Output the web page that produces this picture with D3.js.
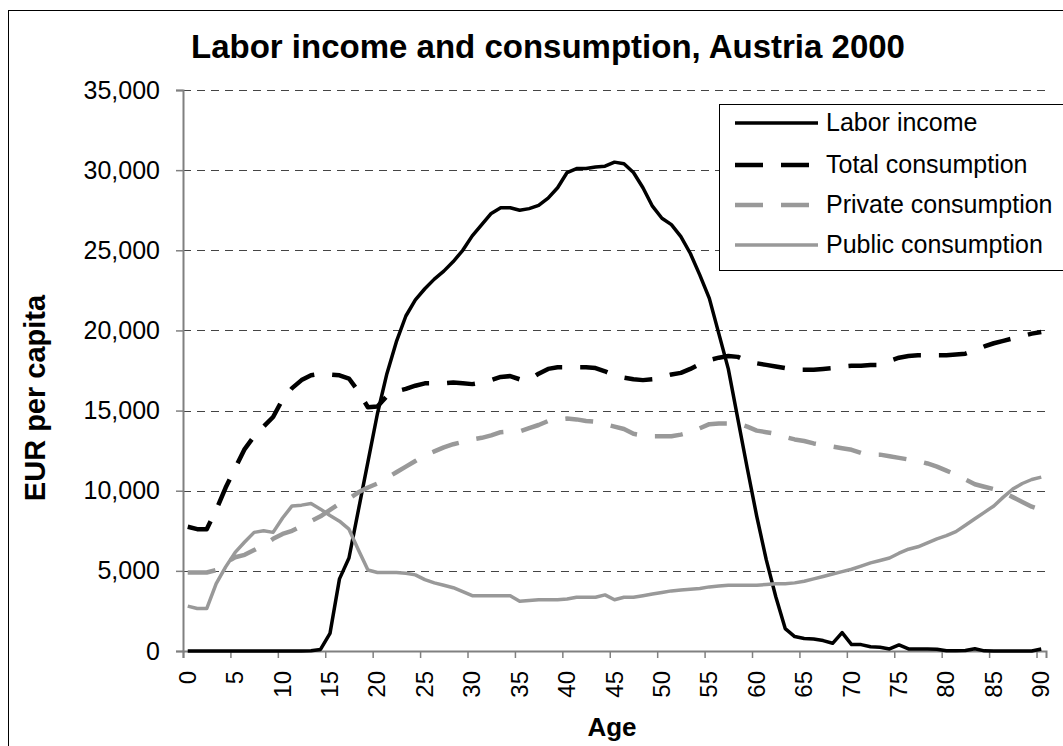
<!DOCTYPE html>
<html>
<head>
<meta charset="utf-8">
<script src="https://cdnjs.cloudflare.com/ajax/libs/d3/7.8.5/d3.min.js"></script>
<style>
  body { margin: 0; background: #fff; }
  text { font-family: "Liberation Sans", Arial, sans-serif; }
</style>
</head>
<body>
<script>
var ages = [0, 1, 2, 3, 4, 5, 6, 7, 8, 9, 10, 11, 12, 13, 14, 15, 16, 17, 18, 19,
    20, 21, 22, 23, 24, 25, 26, 27, 28, 29, 30, 31, 32, 33, 34, 35, 36, 37, 38, 39,
    40, 41, 42, 43, 44, 45, 46, 47, 48, 49, 50, 51, 52, 53, 54, 55, 56, 57, 58, 59,
    60, 61, 62, 63, 64, 65, 66, 67, 68, 69, 70, 71, 72, 73, 74, 75, 76, 77, 78, 79,
    80, 81, 82, 83, 84, 85, 86, 87, 88, 89, 90];

var laborIncome = [0, 0, 0, 0, 0, 0, 0, 0, 0, 0, 0, 0, 0, 20, 100, 1100, 4500, 5800, 8800, 11800,
    14800, 17300, 19300, 20900, 21900, 22600, 23200, 23700, 24300, 25000,
    25900, 26600, 27300, 27650, 27650, 27500, 27600, 27800, 28250, 28900,
    29850, 30100, 30100, 30200, 30250, 30500, 30400, 29850, 28900, 27750,
    27000, 26600, 25850, 24800, 23450, 22000, 19800, 17600, 14500, 11400,
    8400, 5700, 3400, 1400, 900, 780, 750, 650, 480, 1150,
    400, 400, 270, 230, 130, 380, 130, 130, 130, 110,
    20, 20, 30, 140, 10, 0, 0, 0, 0, 0, 120];

var totalConsumption = [7750, 7600, 7600, 8800, 10200, 11400, 12600, 13400, 14000, 14600,
    15700, 16400, 16900, 17200, 17300, 17250, 17200, 17000, 16200, 15200,
    15250, 15900, 16200, 16350, 16550, 16700, 16700, 16700, 16750, 16700,
    16650, 16750, 16900, 17100, 17150, 16950, 16900, 17300, 17600, 17700,
    17700, 17700, 17700, 17650, 17450, 17200, 17050, 16950, 16900, 16950,
    17100, 17250, 17350, 17600, 17900, 18150, 18300, 18400, 18350, 18100,
    17950, 17850, 17750, 17650, 17550, 17550, 17550, 17600, 17650, 17750,
    17800, 17800, 17850, 17850, 18100, 18300, 18400, 18450, 18450, 18450,
    18450, 18500, 18550, 18750, 19000, 19200, 19350, 19500, 19650, 19800, 19900];

var privateConsumption = [4900, 4900, 4900, 5050, 5500, 5850, 6000, 6300, 6600, 7000,
    7300, 7500, 7800, 8100, 8400, 8800, 9200, 9500, 9900, 10200,
    10450, 10800, 11150, 11500, 11850, 12200, 12450, 12700, 12900, 13050,
    13200, 13300, 13450, 13650, 13700, 13700, 13900, 14100, 14350, 14450,
    14500, 14450, 14350, 14300, 14150, 14000, 13850, 13550, 13450, 13400,
    13400, 13400, 13500, 13650, 13900, 14150, 14200, 14200, 14200, 14000,
    13750, 13650, 13550, 13350, 13200, 13100, 12950, 12850, 12750, 12650,
    12550, 12350, 12250, 12250, 12150, 12050, 11950, 11850, 11700, 11500,
    11250, 11000, 10700, 10400, 10250, 10100, 9900, 9600, 9300, 9000, 8800];

var publicConsumption = [2800, 2650, 2650, 4200, 5250, 6150, 6800, 7400, 7500, 7400,
    8300, 9050, 9100, 9200, 8850, 8450, 8100, 7600, 6300, 5050,
    4900, 4900, 4900, 4850, 4750, 4450, 4250, 4100, 3950, 3700,
    3450, 3450, 3450, 3450, 3450, 3100, 3150, 3200, 3200, 3200,
    3250, 3350, 3350, 3350, 3500, 3200, 3350, 3350, 3450, 3550,
    3650, 3750, 3800, 3850, 3900, 4000, 4050, 4100, 4100, 4100,
    4100, 4150, 4200, 4200, 4250, 4350, 4500, 4650, 4800, 4950,
    5100, 5300, 5500, 5650, 5800, 6100, 6350, 6500, 6750, 7000,
    7200, 7450, 7850, 8250, 8650, 9050, 9600, 10100, 10450, 10700, 10850];

var seriesNames = ["Labor income", "Total consumption", "Private consumption", "Public consumption"];
var yTicks = [0, 5000, 10000, 15000, 20000, 25000, 30000, 35000];
var xLabelAges = [0, 5, 10, 15, 20, 25, 30, 35, 40, 45, 50, 55, 60, 65, 70, 75, 80, 85, 90];

var w = 1063;
var h = 746;
var plotLeft = 183, plotRight = 1046, plotTop = 90, plotBottom = 651;

// line styles per series, same order as seriesNames
var styles = [
    { color: "#000", width: 3.5, dash: null },
    { color: "#000", width: 4.5, dash: "28,18" },
    { color: "#999", width: 4.5, dash: "28,18" },
    { color: "#999", width: 3.5, dash: null }
];
var values = [laborIncome, totalConsumption, privateConsumption, publicConsumption];

var svg = d3.select("body")
    .append("svg")
    .attr("width", w)
    .attr("height", h);

// outer chart frame, runs off the right and bottom edges
svg.append("rect")
    .attr("x", 8.5).attr("y", 10.5)
    .attr("width", 1200).attr("height", 900)
    .attr("fill", "#fff")
    .attr("stroke", "#000")
    .attr("stroke-width", 1);

var x = d3.scaleBand().domain(ages).range([plotLeft, plotRight]);
var y = d3.scaleLinear().domain([0, 35000]).range([plotBottom, plotTop]);
var cx = function (a) { return x(a) + x.bandwidth() / 2; };

// grid lines
svg.append("g")
    .selectAll("line")
    .data(yTicks.slice(1))
    .enter()
    .append("line")
    .attr("x1", plotLeft).attr("x2", plotRight)
    .attr("y1", function (d) { return Math.round(y(d)) + 0.5; })
    .attr("y2", function (d) { return Math.round(y(d)) + 0.5; })
    .attr("stroke", "#444")
    .attr("stroke-width", 1)
    .attr("stroke-dasharray", "8,6");

// y axis
var yAxis = svg.append("g")
    .attr("transform", "translate(" + plotLeft + ",0)")
    .call(d3.axisLeft(y).tickValues(yTicks).tickSize(7).tickPadding(16)
        .tickFormat(d3.format(",")));
yAxis.select(".domain").attr("stroke", "#808080").attr("stroke-width", 2);
yAxis.selectAll(".tick line").attr("stroke", "#808080").attr("stroke-width", 1.5);
yAxis.selectAll("text")
    .attr("font-size", "25px")
    .attr("fill", "#000")
    .style("font-family", "'Liberation Sans', Arial, sans-serif");

// x axis: ticks sit on category boundaries every 5 ages
var xEdge = d3.scaleLinear().domain([0, ages.length]).range([plotLeft, plotRight]);
var xAxis = svg.append("g")
    .attr("transform", "translate(0," + plotBottom + ")")
    .call(d3.axisBottom(xEdge).tickValues(xLabelAges).tickSize(7).tickFormat(""));
xAxis.select(".domain").attr("stroke", "#808080").attr("stroke-width", 2);
xAxis.selectAll(".tick line").attr("stroke", "#808080").attr("stroke-width", 1.5);

svg.append("g")
    .selectAll("text")
    .data(xLabelAges)
    .enter()
    .append("text")
    .text(function (d) { return d; })
    .attr("transform", function (d) {
        return "translate(" + (cx(d) + 8) + ",671) rotate(-90)";
    })
    .attr("text-anchor", "end")
    .attr("font-size", "24px");

// series lines
var line = d3.line()
    .x(function (d, i) { return cx(ages[i]); })
    .y(function (d) { return y(d); });

svg.append("g")
    .selectAll("path")
    .data(values)
    .enter()
    .append("path")
    .attr("d", line)
    .attr("fill", "none")
    .attr("stroke", function (d, i) { return styles[i].color; })
    .attr("stroke-width", function (d, i) { return styles[i].width; })
    .attr("stroke-dasharray", function (d, i) { return styles[i].dash; })
    .attr("stroke-linejoin", "round");

// legend
var legend = svg.append("g");
legend.append("rect")
    .attr("x", 719.5).attr("y", 104.5)
    .attr("width", 400).attr("height", 166)
    .attr("fill", "#fff")
    .attr("stroke", "#000")
    .attr("stroke-width", 1);

var rowY = [123, 165, 205, 245];
legend.selectAll("line")
    .data(seriesNames)
    .enter()
    .append("line")
    .attr("x1", 735).attr("x2", 818)
    .attr("y1", function (d, i) { return rowY[i]; })
    .attr("y2", function (d, i) { return rowY[i]; })
    .attr("stroke", function (d, i) { return styles[i].color; })
    .attr("stroke-width", function (d, i) { return styles[i].width; })
    .attr("stroke-dasharray", function (d, i) { return styles[i].dash; });

legend.selectAll("text")
    .data(seriesNames)
    .enter()
    .append("text")
    .text(function (d) { return d; })
    .attr("x", 826)
    .attr("y", function (d, i) { return rowY[i] + 8; })
    .attr("font-size", "25px");

// titles
svg.append("text")
    .text("Labor income and consumption, Austria 2000")
    .attr("x", 548)
    .attr("y", 58)
    .attr("text-anchor", "middle")
    .attr("font-size", "33px")
    .attr("font-weight", "bold");

svg.append("text")
    .text("Age")
    .attr("x", 612)
    .attr("y", 736)
    .attr("text-anchor", "middle")
    .attr("font-size", "26px")
    .attr("font-weight", "bold");

svg.append("text")
    .text("EUR per capita")
    .attr("transform", "translate(45,398) rotate(-90)")
    .attr("text-anchor", "middle")
    .attr("font-size", "29px")
    .attr("font-weight", "bold");
</script>
</body>
</html>
